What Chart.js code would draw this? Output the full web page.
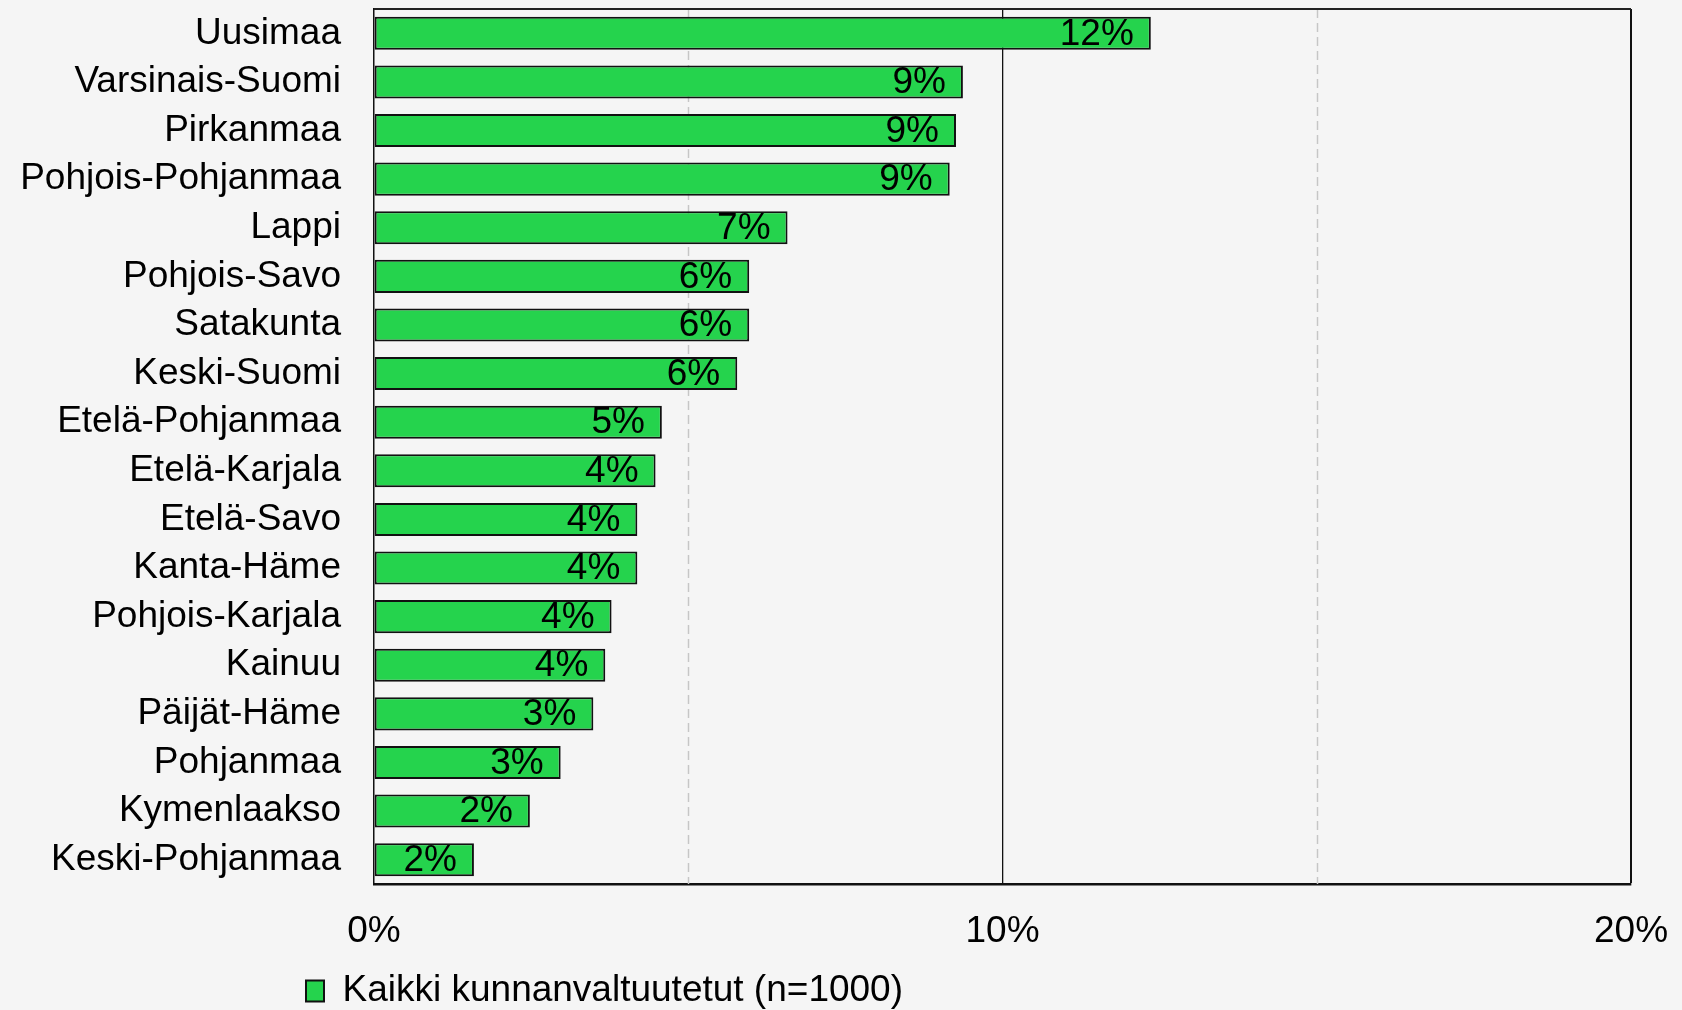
<!DOCTYPE html>
<html>
<head>
<meta charset="utf-8">
<script src="https://cdn.jsdelivr.net/npm/chart.js@4"></script>
<style>
  html, body { margin: 0; padding: 0; background: #f5f5f5; }
  #c { display: block; background: #f5f5f5; }
</style>
</head>
<body>
<canvas id="c" width="1682" height="1010"></canvas>
<script>
const categories = [
  'Uusimaa', 'Varsinais-Suomi', 'Pirkanmaa', 'Pohjois-Pohjanmaa', 'Lappi',
  'Pohjois-Savo', 'Satakunta', 'Keski-Suomi', 'Etelä-Pohjanmaa', 'Etelä-Karjala',
  'Etelä-Savo', 'Kanta-Häme', 'Pohjois-Karjala', 'Kainuu', 'Päijät-Häme',
  'Pohjanmaa', 'Kymenlaakso', 'Keski-Pohjanmaa'
];
const values = [
  12.36, 9.37, 9.26, 9.16, 6.58,
  5.97, 5.97, 5.78, 4.58, 4.48,
  4.19, 4.19, 3.78, 3.68, 3.49,
  2.97, 2.48, 1.59
];
const valueLabels = ['12%', '9%', '9%', '9%', '7%', '6%', '6%', '6%', '5%', '4%', '4%', '4%', '4%', '4%', '3%', '3%', '2%', '2%'];
const xTickValues = [0, 10, 20];
const xTickLabels = ['0%', '10%', '20%'];
const dashedGridValues = [5, 15];
const seriesName = 'Kaikki kunnanvaltuutetut (n=1000)';

const FONT = '"Liberation Sans", Arial, sans-serif';
const FS = 37;

const framePlugin = {
  id: 'frame',
  beforeDatasetsDraw(chart) {
    const { ctx, chartArea: a, scales: { x } } = chart;
    ctx.save();
    ctx.strokeStyle = '#c6c6c6';
    ctx.lineWidth = 1.5;
    ctx.setLineDash([9, 5]);
    dashedGridValues.forEach(v => {
      const px = Math.round(x.getPixelForValue(v)) + 0.5;
      ctx.beginPath();
      ctx.moveTo(px, a.top);
      ctx.lineTo(px, a.bottom);
      ctx.stroke();
    });
    ctx.setLineDash([]);
    ctx.strokeStyle = '#222';
    ctx.lineWidth = 2;
    ctx.beginPath();
    ctx.moveTo(a.left, a.top);
    ctx.lineTo(a.right, a.top);
    ctx.stroke();
    ctx.restore();
  },
  afterDatasetsDraw(chart) {
    const { ctx } = chart;
    const meta = chart.getDatasetMeta(0);
    ctx.save();
    ctx.font = FS + 'px ' + FONT;
    ctx.fillStyle = '#000';
    ctx.textAlign = 'right';
    ctx.textBaseline = 'middle';
    meta.data.forEach((bar, i) => {
      ctx.fillText(valueLabels[i], bar.x - 17, bar.y + 1);
    });
    ctx.restore();
  },
  afterLayout(chart) {
    const lg = chart.legend;
    if (lg) {
      const h = lg.bottom - lg.top;
      lg.left = 302;
      lg.top = 991 - 4 - FS / 2;
      lg.bottom = lg.top + h;
    }
  }
};

new Chart(document.getElementById('c'), {
  type: 'bar',
  data: {
    labels: categories,
    datasets: [{
      label: seriesName,
      data: values,
      backgroundColor: '#25d34d',
      borderColor: '#111',
      borderWidth: 2,
      borderSkipped: false,
      categoryPercentage: 1,
      barPercentage: 0.68
    }]
  },
  options: {
    indexAxis: 'y',
    responsive: false,
    animation: false,
    devicePixelRatio: 1,
    layout: { padding: { top: 9, right: 51, bottom: 0, left: 0 } },
    plugins: {
      legend: {
        position: 'bottom',
        align: 'start',
        labels: {
          boxWidth: 18,
          boxHeight: 21,
          padding: 4,
          color: '#000',
          font: { family: FONT, size: FS }
        }
      },
      tooltip: { enabled: false }
    },
    scales: {
      x: {
        min: 0,
        max: 20,
        afterBuildTicks(scale) {
          scale.ticks = [0, 5, 10, 15, 20].map(v => ({ value: v }));
        },
        afterFit(scale) {
          scale.height = 75;
          scale.paddingRight = 0;
          scale.paddingLeft = 0;
        },
        ticks: {
          autoSkip: false,
          maxRotation: 0,
          padding: 26,
          color: '#000',
          font: { family: FONT, size: FS },
          callback(value) {
            const i = xTickValues.indexOf(value);
            return i >= 0 ? xTickLabels[i] : '';
          }
        },
        grid: {
          drawTicks: false,
          color(ctx) {
            const v = ctx.tick && ctx.tick.value;
            return (v === 10 || v === 20) ? '#111' : 'rgba(0,0,0,0)';
          },
          lineWidth(ctx) {
            const v = ctx.tick && ctx.tick.value;
            return v === 20 ? 2 : 1.3;
          }
        },
        border: { display: true, color: '#111', width: 2.5 }
      },
      y: {
        afterFit(scale) {
          scale.width = 374;
          scale.paddingTop = 0;
          scale.paddingBottom = 0;
        },
        ticks: {
          autoSkip: false,
          padding: 33,
          color: '#000',
          font: { family: FONT, size: FS }
        },
        grid: { display: false, drawTicks: false },
        border: { display: true, color: '#111', width: 1.5 }
      }
    }
  },
  plugins: [framePlugin]
});
</script>
</body>
</html>
